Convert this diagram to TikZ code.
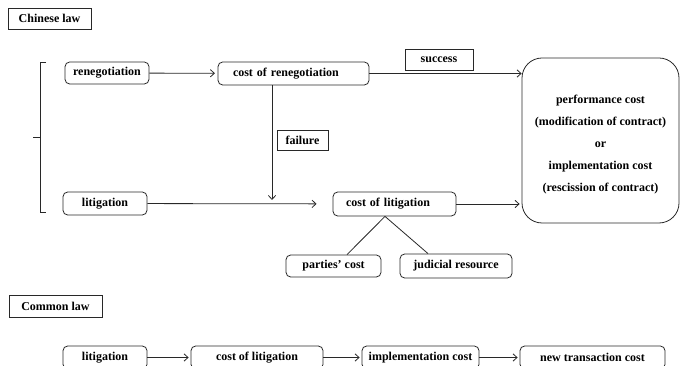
\documentclass[tikz,border=0pt]{standalone}
\usepackage{fontspec}
\setmainfont{Liberation Serif}
\usepackage{tikz}
\usetikzlibrary{arrows.meta, positioning, calc}
\definecolor{mydark}{RGB}{40,40,40}
\tikzset{
  titlebox/.style={rectangle, draw=mydark, line width=0.7pt,
    inner sep=0pt, font=\bfseries\fontsize{9}{11}\selectfont},
  costbox/.style={rectangle, draw=mydark, line width=0.6pt,
    rounded corners=3.5pt, inner sep=0pt,
    font=\bfseries\fontsize{9}{11}\selectfont},
  resultbox/.style={rectangle, draw=mydark, line width=0.6pt,
    rounded corners=15pt, inner sep=0pt, align=center,
    font=\bfseries\fontsize{9}{16.5}\selectfont},
  arrow/.style={-{Straight Barb[length=3pt,width=5.5pt]}, line width=0.6pt, color=mydark},
  line/.style={line width=0.6pt, color=mydark}
}

\begin{document}
\begin{tikzpicture}[x=0.75pt, y=-0.75pt]
  \useasboundingbox (0,0) rectangle (681,366);

  % Chinese law
  \node[titlebox, minimum width=83*0.75pt, minimum height=21*0.75pt] (chinese) at (49.5,18.5) {Chinese law};

  % bracket round the two ways
  \draw[line] (46,62) -- (40,62) -- (40,212) -- (46,212);
  \draw[line] (40,137) -- (33,137);

  % renegotiation branch
  \node[costbox, minimum width=84*0.75pt, minimum height=22*0.75pt] (reneg) at (107,73) {renegotiation};
  \node[costbox, minimum width=151*0.75pt, minimum height=23*0.75pt,
    text width=90.75pt, align=left] (costreneg) at (293.5,73.5) {cost of renegotiation};
  \node[titlebox, minimum width=68*0.75pt, minimum height=21*0.75pt] (success) at (439,59.5) {success};
  \node[titlebox, minimum width=51*0.75pt, minimum height=20*0.75pt] (failure) at (302.5,140) {failure};

  % result of both ways
  \node[resultbox, minimum width=157*0.75pt, minimum height=165*0.75pt] (result) at (600.5,140.5)
    {\rule{0pt}{12pt}performance cost\\(modification of contract)\\or\\implementation cost\\(rescission of contract)};

  % litigation branch
  \node[costbox, minimum width=84*0.75pt, minimum height=23*0.75pt] (litig) at (105,203.5) {litigation};
  \node[costbox, minimum width=123*0.75pt, minimum height=24*0.75pt,
    text width=72.75pt, align=left] (costlit) at (394.5,204) {cost of litigation};
  \node[costbox, minimum width=95*0.75pt, minimum height=22*0.75pt] (parties) at (333.5,266) {parties’ cost};
  \node[costbox, minimum width=112*0.75pt, minimum height=24*0.75pt] (judicial) at (456,266) {judicial resource};

  \coordinate (drop) at (272,200);
  \coordinate (apex) at ($(costlit.south)+(-9.5,0)$);

  \draw[arrow, shorten >=2pt] (reneg) -- (costreneg);
  \draw[arrow] (costreneg.east) -- (costreneg.east -| result.west);
  \draw[arrow] (costreneg.south -| drop) -- (drop);
  \draw[arrow, shorten >=12pt] (litig) -- (costlit);
  \draw[arrow, shorten >=1.5pt] (costlit.east) -- (costlit.east -| result.west);
  \draw[line] (apex) -- ($(parties.north)+(13.5,0)$);
  \draw[line] (apex) -- ($(judicial.north)+(-28,0)$);

  % Common law
  \node[titlebox, minimum width=93*0.75pt, minimum height=22*0.75pt] (common) at (55.5,306) {Common law};

  \node[costbox, minimum width=84*0.75pt, minimum height=23*0.75pt] (clit) at (105,357.5) {litigation};
  \node[costbox, minimum width=132*0.75pt, minimum height=23*0.75pt] (ccost) at (257,357.5) {cost of litigation};
  \node[costbox, minimum width=117*0.75pt, minimum height=23*0.75pt] (cimpl) at (420.5,357.5) {implementation cost};
  \node[costbox, minimum width=145*0.75pt, minimum height=23*0.75pt] (cnew) at (592.5,357.5) {new transaction cost};

  \draw[arrow, shorten >=1.5pt] (clit) -- (ccost);
  \draw[arrow, shorten >=1.5pt] (ccost) -- (cimpl);
  \draw[arrow, shorten >=1.5pt] (cimpl) -- (cnew);
\end{tikzpicture}
\end{document}
